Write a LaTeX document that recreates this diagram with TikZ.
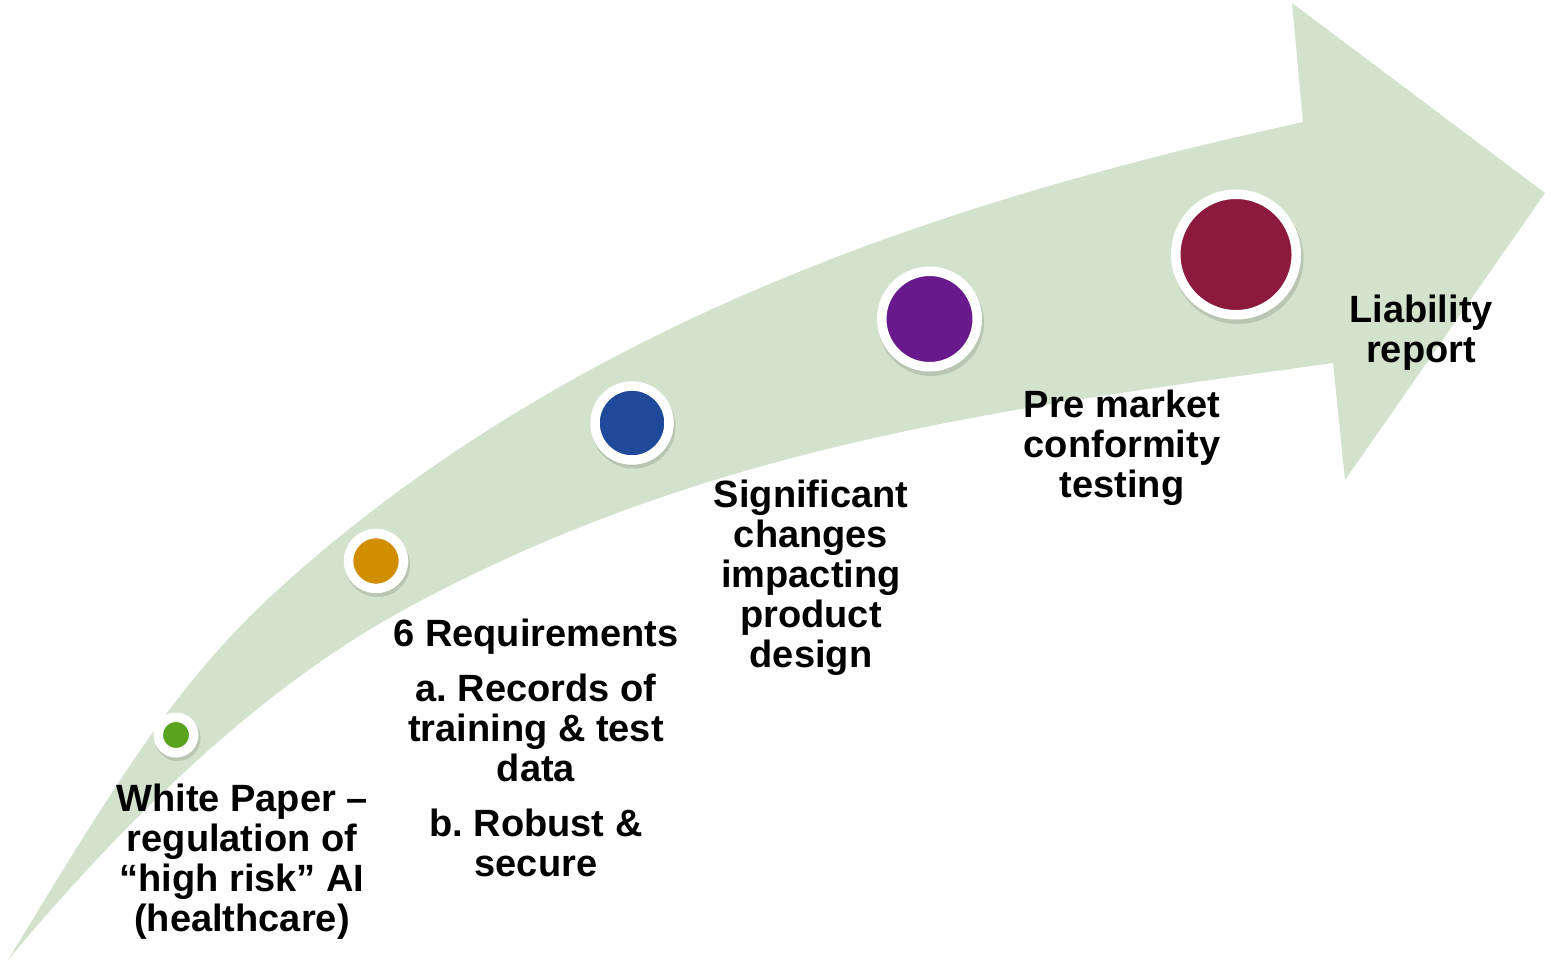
\documentclass[tikz,border=0pt]{standalone}
\usepackage{fontspec}
\setmainfont{Liberation Sans}
\definecolor{bandgreen}{RGB}{211,226,204}
\definecolor{dotgreen}{RGB}{90,164,30}
\definecolor{dotorange}{RGB}{209,142,0}
\definecolor{dotblue}{RGB}{31,73,153}
\definecolor{dotpurple}{RGB}{104,26,140}
\definecolor{dotmaroon}{RGB}{139,26,60}
\begin{document}
\frenchspacing
\begin{tikzpicture}[x=0.5pt,y=-0.5pt,
  lbl/.style={font=\bfseries\fontsize{19}{20}\selectfont, align=center, inner sep=0pt, text=black},
  dot/.style={circle, draw=white, line width=4.75pt, inner sep=0pt},
  dotshadow/.style={fill=black, opacity=0.12}]
\useasboundingbox (0,0) rectangle (1551,964);
% curved arrow band
\fill[bandgreen] (8,960) .. controls (138,745.5) and (190,665.7) .. (300,570)
  .. controls (600,309) and (973,194.6) .. (1303,122)
  -- (1292,3) -- (1545,193) -- (1345,480) -- (1333,363)
  .. controls (1022,406.5) and (711,441) .. (400,612)
  .. controls (270,683.5) and (138,804) .. (8,960) -- cycle;
% soft shadows of the dots
\fill[dotshadow] (177.5,738) circle[radius=23];
\fill[dotshadow] (377.5,564.5) circle[radius=32.5];
\fill[dotshadow] (633.5,426.5) circle[radius=42];
\fill[dotshadow] (931,323) circle[radius=53];
\fill[dotshadow] (1238,258.5) circle[radius=65.5];
% dots
\node[dot, fill=dotgreen,  minimum size=17.75pt] (d1) at (176,735) {};
\node[dot, fill=dotorange, minimum size=27.5pt]  (d2) at (376,561) {};
\node[dot, fill=dotblue,   minimum size=37pt]    (d3) at (632,423) {};
\node[dot, fill=dotpurple, minimum size=47.75pt] (d4) at (929.5,319) {};
\node[dot, fill=dotmaroon, minimum size=60.25pt] (d5) at (1236,254.5) {};
% labels
\node[lbl] (t1) at (242,861.3) {White Paper –\\regulation of\\“high risk” AI\\(healthcare)};
\node[lbl] (t2) at (536,747.8) {6 Requirements\\[7.5pt]a. Records of\\training \& test\\data\\[7.5pt]b. Robust \&\\secure};
\node[lbl] (t3) at (811,577.3) {Significant\\changes\\impacting\\product\\design};
\node[lbl] (t4) at (1122,447.3) {Pre market\\conformity\\testing};
\node[lbl] (t5) at (1421,332.3) {Liability\\report};
\end{tikzpicture}
\end{document}
